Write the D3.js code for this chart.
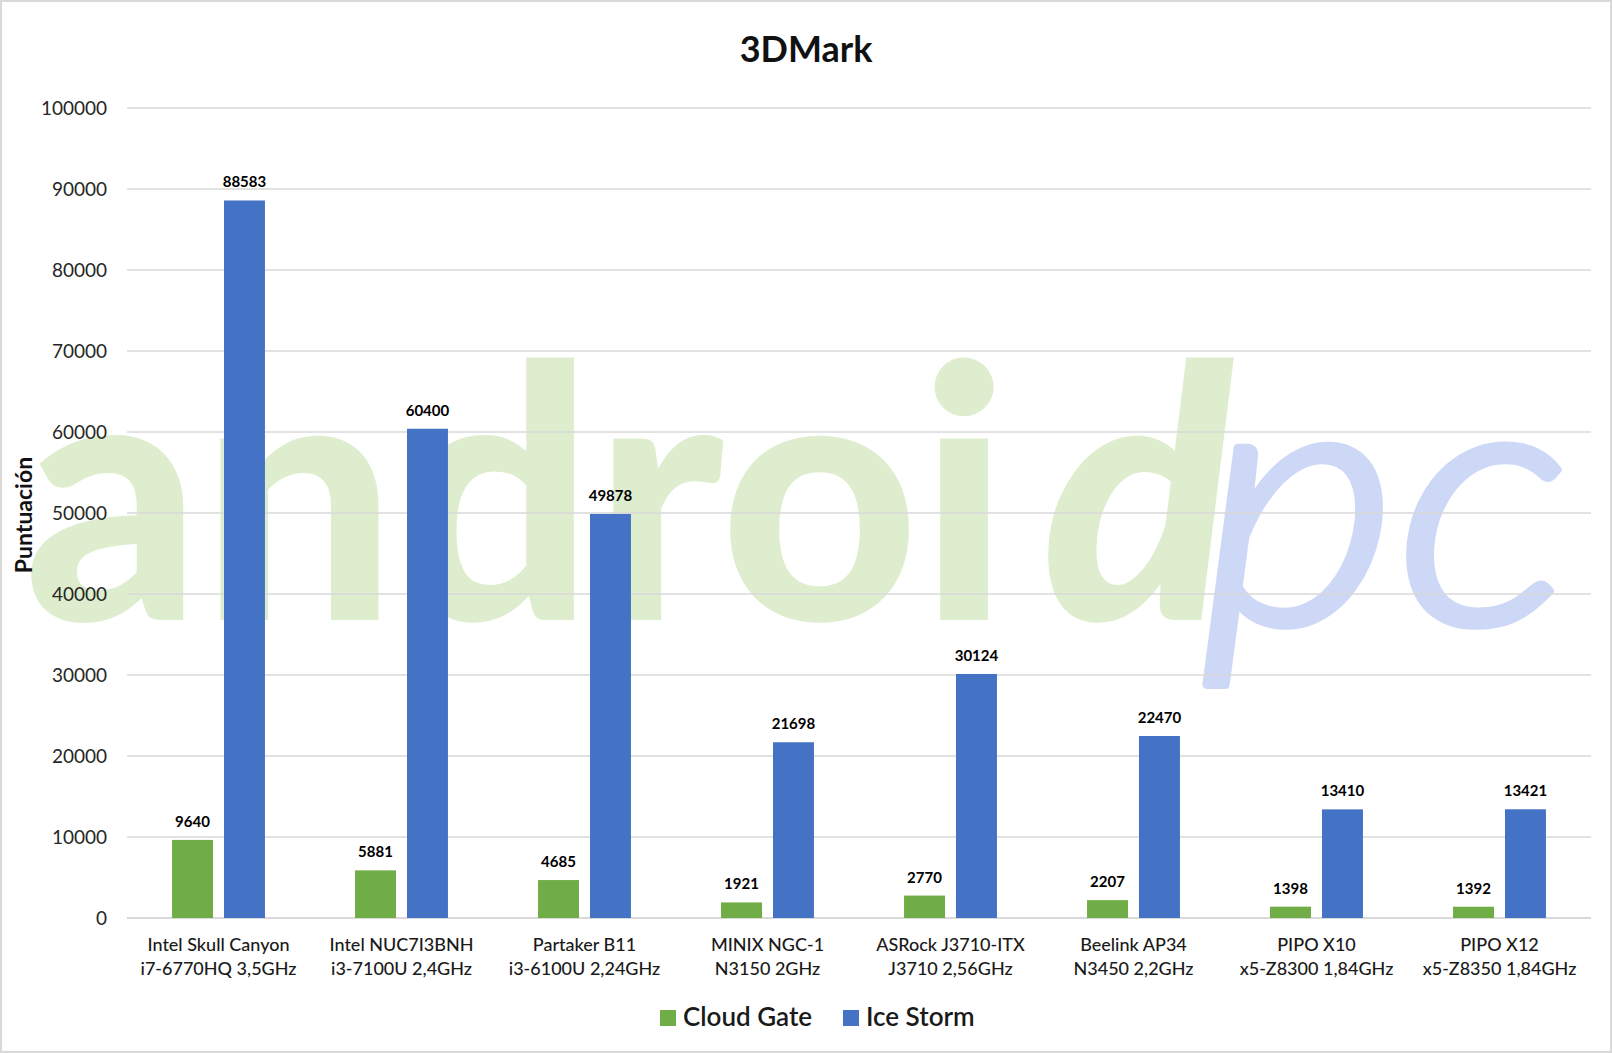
<!DOCTYPE html>
<html>
<head>
<meta charset="utf-8">
<script src="https://cdn.jsdelivr.net/npm/d3@7"></script>
<style>
    html, body { margin: 0; padding: 0; background: #ffffff; }
    svg { display: block; font-family: Lato, "Open Sans", sans-serif; }
</style>
</head>
<body>
<svg id="chart"></svg>
<script>
const title = '3DMark';
const yTitle = 'Puntuación';

const categories = [
    ['Intel Skull Canyon', 'i7-6770HQ 3,5GHz'],
    ['Intel NUC7I3BNH', 'i3-7100U 2,4GHz'],
    ['Partaker B11', 'i3-6100U 2,24GHz'],
    ['MINIX NGC-1', 'N3150 2GHz'],
    ['ASRock J3710-ITX', 'J3710 2,56GHz'],
    ['Beelink AP34', 'N3450 2,2GHz'],
    ['PIPO X10', 'x5-Z8300 1,84GHz'],
    ['PIPO X12', 'x5-Z8350 1,84GHz'],
];

const seriesNames = ['Cloud Gate', 'Ice Storm'];
const cloudGate = [9640, 5881, 4685, 1921, 2770, 2207, 1398, 1392];
const iceStorm  = [88583, 60400, 49878, 21698, 30124, 22470, 13410, 13421];

const yTicks = [0, 10000, 20000, 30000, 40000, 50000, 60000, 70000, 80000, 90000, 100000];

class Chart {
    constructor (selector) {
        this.w = 1612;
        this.h = 1053;
        this.colors = { 'Cloud Gate': '#70ad47', 'Ice Storm': '#4472c4' };

        this.svg = d3.select(selector)
            .attr('width', this.w)
            .attr('height', this.h);

        this.x0 = d3.scaleBand()
            .domain(d3.range(categories.length))
            .range([127, 1591])
            .padding(0);

        this.x1 = d3.scaleBand()
            .domain(seriesNames)
            .range([0, this.x0.bandwidth()])
            .paddingInner(0.212)
            .paddingOuter(0.867);

        this.y = d3.scaleLinear()
            .domain([0, 100000])
            .range([918, 108]);
    }
    draw () {
        this.drawFrame();
        this.drawWatermark();
        this.drawGrid();
        this.drawBars();
        this.drawAxes();
        this.drawLegend();
    }
    drawFrame () {
        this.svg.append('rect')
            .attr('x', 1).attr('y', 1)
            .attr('width', this.w - 2).attr('height', this.h - 2)
            .attr('fill', '#ffffff')
            .attr('stroke', '#d9d9d9')
            .attr('stroke-width', 2);

        this.svg.append('text')
            .attr('x', this.w / 2)
            .attr('y', 62)
            .attr('text-anchor', 'middle')
            .attr('font-size', 36)
            .attr('font-weight', 700)
            .attr('fill', '#111111')
            .text(title);
    }
    drawWatermark () {
        // site logo behind the plot
        let g = this.svg.append('g').attr('class', 'watermark');

        g.append('text')
            .attr('x', 24).attr('y', 620)
            .attr('font-size', 352)
            .attr('font-weight', 900)
            .attr('fill', '#deedcd')
            .attr('textLength', 985)
            .attr('lengthAdjust', 'spacingAndGlyphs')
            .text('androi');

        g.append('text')
            .attr('x', 1042).attr('y', 620)
            .attr('font-size', 352)
            .attr('font-weight', 900)
            .attr('font-style', 'italic')
            .attr('fill', '#deedcd')
            .text('d');

        g.append('text')
            .attr('x', 1200).attr('y', 623)
            .attr('font-size', 350)
            .attr('font-weight', 300)
            .attr('font-style', 'italic')
            .attr('fill', '#cdd8f7')
            .attr('stroke', '#cdd8f7')
            .attr('stroke-width', 9)
            .attr('stroke-linejoin', 'round')
            .attr('textLength', 370)
            .attr('lengthAdjust', 'spacingAndGlyphs')
            .text('pc');
    }
    drawGrid () {
        this.svg.append('g')
            .attr('class', 'grid')
            .selectAll('line')
            .data(yTicks)
            .enter()
            .append('line')
            .attr('x1', 127)
            .attr('x2', 1591)
            .attr('y1', (d) => { return this.y(d); })
            .attr('y2', (d) => { return this.y(d); })
            .attr('stroke', '#d9d9d9')
            .attr('stroke-width', (d) => { return d === 0 ? 2 : 1.5; });
    }
    drawBars () {
        let rows = categories.map((c, i) => {
            return [
                { i: i, key: 'Cloud Gate', value: cloudGate[i] },
                { i: i, key: 'Ice Storm', value: iceStorm[i] },
            ];
        });

        let groups = this.svg.append('g')
            .attr('class', 'bars')
            .selectAll('g')
            .data(rows)
            .enter()
            .append('g')
            .attr('transform', (d, i) => { return 'translate(' + this.x0(i) + ',0)'; });

        groups.selectAll('rect')
            .data((d) => { return d; })
            .enter()
            .append('rect')
            .attr('x', (d) => { return this.x1(d.key); })
            .attr('y', (d) => { return this.y(d.value); })
            .attr('width', this.x1.bandwidth())
            .attr('height', (d) => { return this.y(0) - this.y(d.value); })
            .attr('fill', (d) => { return this.colors[d.key]; });

        groups.selectAll('text')
            .data((d) => { return d; })
            .enter()
            .append('text')
            .attr('x', (d) => { return this.x1(d.key) + this.x1.bandwidth() / 2; })
            .attr('y', (d) => { return this.y(d.value) - 13; })
            .attr('text-anchor', 'middle')
            .attr('font-size', 15)
            .attr('font-weight', 700)
            .attr('fill', '#000000')
            .text((d) => { return d.value; });
    }
    drawAxes () {
        let yAxis = d3.axisLeft(this.y)
            .tickValues(yTicks)
            .tickSize(0)
            .tickPadding(0)
            .tickFormat((d) => { return String(d); });

        let ya = this.svg.append('g')
            .attr('transform', 'translate(107,0)')
            .call(yAxis);
        ya.select('.domain').remove();
        ya.selectAll('text')
            .attr('font-family', 'Lato, sans-serif')
            .attr('font-size', 19)
            .attr('fill', '#262626');

        let xAxis = d3.axisBottom(this.x0)
            .tickSize(0)
            .tickFormat(() => { return ''; });

        let xa = this.svg.append('g')
            .attr('transform', 'translate(0,918)')
            .call(xAxis);
        xa.select('.domain').remove();

        xa.selectAll('.tick text')
            .attr('font-family', 'Lato, sans-serif')
            .attr('font-size', 18)
            .attr('font-weight', 500)
            .attr('fill', '#1a1a1a')
            .attr('y', 0)
            .attr('dy', 0)
            .each(function (d) {
                let t = d3.select(this);
                categories[d].forEach((line, k) => {
                    t.append('tspan')
                        .attr('x', 0)
                        .attr('y', 33 + k * 24)
                        .text(line);
                });
            });

        this.svg.append('text')
            .attr('transform', 'translate(32,' + (this.y(50000) + 2) + ') rotate(-90)')
            .attr('text-anchor', 'middle')
            .attr('font-size', 23)
            .attr('font-weight', 700)
            .attr('fill', '#111111')
            .text(yTitle);
    }
    drawLegend () {
        let items = [
            { key: 'Cloud Gate', x: 660 },
            { key: 'Ice Storm', x: 843 },
        ];

        let g = this.svg.append('g').attr('class', 'legend');

        let item = g.selectAll('g')
            .data(items)
            .enter()
            .append('g')
            .attr('transform', (d) => { return 'translate(' + d.x + ',1010)'; });

        item.append('rect')
            .attr('width', 16)
            .attr('height', 16)
            .attr('fill', (d) => { return this.colors[d.key]; });

        item.append('text')
            .attr('x', 23)
            .attr('y', 16)
            .attr('font-size', 26)
            .attr('font-weight', 600)
            .attr('fill', '#1a1a1a')
            .text((d) => { return d.key; });
    }
}

new Chart('#chart').draw();
</script>
</body>
</html>
